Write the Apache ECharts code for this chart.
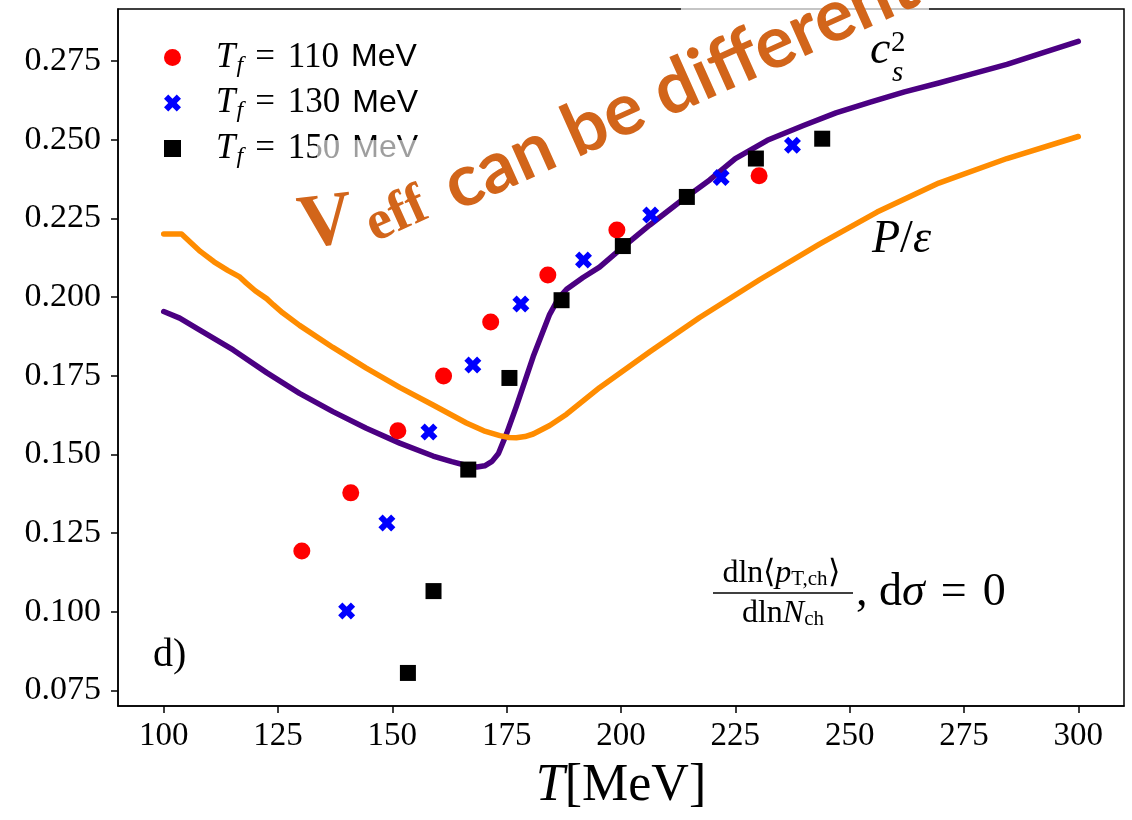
<!DOCTYPE html>
<html><head><meta charset="utf-8">
<script src="https://cdn.jsdelivr.net/npm/echarts@6/dist/echarts.min.js"></script>
<style>html,body{margin:0;padding:0;background:#fff}#c{width:1132px;height:820px}</style>
</head><body><div id="c"></div>
<script>
// ---- data ----
const xTicks = [100, 125, 150, 175, 200, 225, 250, 275, 300];
const yTicks = [0.075, 0.100, 0.125, 0.150, 0.175, 0.200, 0.225, 0.250, 0.275];

const csT = [100, 103.5, 107.9, 115.2, 122.5, 129.7, 137.0, 144.3, 151.6, 158.9, 163.0, 166.2, 168.5, 170.2, 171.8, 173.2, 175.0, 177.1, 180.8, 184.4, 186.3, 188.1, 191.7, 195.3, 199.7, 206.3, 212.8, 219.4, 225.0, 232.0, 239.9, 247.0, 254.7, 262.0, 269.5, 277.0, 284.4, 292.0, 300];
const csV = [0.1954, 0.1933, 0.1895, 0.1832, 0.1760, 0.1694, 0.1636, 0.1583, 0.1536, 0.1495, 0.1477, 0.1465, 0.1460, 0.1464, 0.1478, 0.1503, 0.1567, 0.1652, 0.1811, 0.1945, 0.1995, 0.2025, 0.2062, 0.2095, 0.2150, 0.2229, 0.2302, 0.2372, 0.2440, 0.2498, 0.2545, 0.2585, 0.2620, 0.2652, 0.2680, 0.2710, 0.2739, 0.2775, 0.2812];

const peT = [100, 103.9, 106, 108, 111, 114, 116.5, 118, 120, 122.5, 124, 126, 129.7, 137.0, 144.3, 151.6, 158.9, 166.2, 170, 173.5, 175.5, 177.1, 179.0, 180.8, 184.4, 188.1, 195.3, 206.3, 217.2, 230.3, 243.4, 256, 269.5, 284.4, 300];
const peV = [0.2200, 0.2200, 0.2172, 0.2145, 0.2112, 0.2085, 0.2065, 0.2045, 0.2020, 0.1995, 0.1975, 0.1950, 0.1910, 0.1840, 0.1774, 0.1713, 0.1657, 0.1600, 0.1575, 0.1560, 0.1554, 0.1553, 0.1557, 0.1565, 0.1592, 0.1628, 0.1712, 0.1826, 0.1935, 0.2055, 0.2168, 0.2270, 0.2362, 0.2440, 0.2510];

const tf110T = [130.2, 140.9, 151.2, 161.2, 171.5, 184.0, 199.1, 230.2];
const tf110V = [0.1193, 0.1378, 0.1575, 0.1749, 0.1921, 0.2070, 0.2213, 0.2385];

const tf130T = [140.0, 148.8, 158.0, 167.6, 178.1, 191.8, 206.5, 221.9, 237.5];
const tf130V = [0.1003, 0.1282, 0.1571, 0.1784, 0.1978, 0.2118, 0.2261, 0.2380, 0.2482];

const tf150T = [153.4, 159.0, 166.6, 175.6, 187.0, 200.4, 214.4, 229.5, 244.0];
const tf150V = [0.0806, 0.1066, 0.1452, 0.1743, 0.1990, 0.2162, 0.2318, 0.2440, 0.2503];

const seriesNames = ['Tf = 110 MeV', 'Tf = 130 MeV', 'Tf = 150 MeV'];

// ---- helpers ----
const zip = (a, b) => a.map((v, i) => [v, b[i]]);
const XPATH = 'path://M-1,-2 L0,-1 L1,-2 L2,-1 L1,0 L2,1 L1,2 L0,1 L-1,2 L-2,1 L-1,0 L-2,-1 Z';
const SERIF = 'Liberation Serif';
const ORANGE_TXT = '#D2651A';

const chart = echarts.init(document.getElementById('c'), null, {renderer: 'canvas'});

const option = {
  backgroundColor: '#fff',
  animation: false,
  grid: {left: 118, right: 8, top: 9, bottom: 114, show: true, borderColor: '#000', borderWidth: 1.5, backgroundColor: 'transparent'},
  xAxis: {
    type: 'value', min: 90, max: 310,
    axisLine: {show: true, onZero: false, lineStyle: {color: '#000', width: 1.5}},
    axisTick: {show: true, length: 7, lineStyle: {color: '#000', width: 1.5}, customValues: xTicks},
    axisLabel: {customValues: xTicks, margin: 14, color: '#000', fontFamily: SERIF, fontSize: 33},
    splitLine: {show: false},
    name: '{i|T}{r|[MeV]}', nameLocation: 'middle', nameGap: 54,
    nameTextStyle: {rich: {
      i: {fontFamily: SERIF, fontStyle: 'italic', fontSize: 52, color: '#000'},
      r: {fontFamily: SERIF, fontSize: 52, color: '#000'}
    }}
  },
  yAxis: {
    type: 'value', min: 0.0701, max: 0.2915,
    axisLine: {show: true, onZero: false, lineStyle: {color: '#000', width: 1.5}},
    axisTick: {show: true, length: 7, lineStyle: {color: '#000', width: 1.5}, customValues: yTicks},
    axisLabel: {customValues: yTicks, margin: 17, color: '#000', fontFamily: SERIF, fontSize: 34,
      formatter: v => v.toFixed(3)},
    splitLine: {show: false}
  },
  legend: {
    orient: 'vertical', left: 159, top: 35, itemWidth: 17, itemHeight: 17, itemGap: 8,
    data: [
      {name: seriesNames[0], icon: 'circle'},
      {name: seriesNames[1], icon: XPATH},
      {name: seriesNames[2], icon: 'rect'}
    ],
    formatter: name => {
      const v = name.match(/\d+/)[0];
      return '{t|T}{s|f}{e|=}{n|' + v + '}{m|MeV}';
    },
    textStyle: {color: '#000', rich: {
      t: {fontFamily: SERIF, fontStyle: 'italic', fontSize: 35, padding: [0, 0, 0, 30], lineHeight: 44},
      s: {fontFamily: SERIF, fontStyle: 'italic', fontSize: 24, padding: [16, 0, 0, 1]},
      e: {fontFamily: SERIF, fontSize: 35, padding: [0, 13, 0, 12]},
      n: {fontFamily: SERIF, fontSize: 35},
      m: {fontFamily: 'Liberation Sans', fontSize: 32, padding: [0, 0, 0, 12]}
    }}
  },
  series: [
    {type: 'line', name: 'cs2', data: zip(csT, csV), showSymbol: false, symbol: 'none', smooth: false, lineStyle: {color: '#4B0082', width: 5.5, join: 'round', cap: 'round'}, z: 2},
    {type: 'line', name: 'Pe', data: zip(peT, peV), showSymbol: false, symbol: 'none', smooth: false, lineStyle: {color: '#FF8C00', width: 5.5, join: 'round', cap: 'round'}, z: 2},
    {type: 'scatter', name: seriesNames[0], data: zip(tf110T, tf110V), symbol: 'circle', symbolSize: 17, itemStyle: {color: '#FF0000', opacity: 1}, z: 3},
    {type: 'scatter', name: seriesNames[1], data: zip(tf130T, tf130V), symbol: XPATH, symbolSize: 17, itemStyle: {color: '#0000FF', opacity: 1}, z: 4},
    {type: 'scatter', name: seriesNames[2], data: zip(tf150T, tf150V), symbol: 'rect', symbolSize: 16, itemStyle: {color: '#000000', opacity: 1}, z: 5}
  ],
  graphic: [
    // c_s^2 label
    {type: 'text', x: 870, y: 74, z: 50, style: {text: 'c', fontFamily: SERIF, fontStyle: 'italic', fontSize: 46, fill: '#000', align: 'left', verticalAlign: 'bottom'}},
    {type: 'text', x: 892, y: 88, z: 50, style: {text: 's', fontFamily: SERIF, fontStyle: 'italic', fontSize: 29, fill: '#000', align: 'left', verticalAlign: 'bottom'}},
    {type: 'text', x: 891, y: 58, z: 50, style: {text: '2', fontFamily: SERIF, fontSize: 29, fill: '#000', align: 'left', verticalAlign: 'bottom'}},
    // P/eps label
    {type: 'text', x: 872, y: 240, z: 50, style: {text: '{i|P}{r|/}{i|ε}', fill: '#000', align: 'left', verticalAlign: 'middle',
      rich: {i: {fontFamily: SERIF, fontStyle: 'italic', fontSize: 46}, r: {fontFamily: SERIF, fontSize: 46}}}},
    // d)
    {type: 'text', x: 153, y: 655, z: 50, style: {text: 'd)', fontFamily: SERIF, fontSize: 40, fill: '#000', align: 'left', verticalAlign: 'middle'}},
    // fraction
    {type: 'text', x: 781, y: 574, z: 50, style: {text: '{r|dln⟨}{i|p}{s|T,ch}{r|⟩}', fill: '#000', align: 'center', verticalAlign: 'middle',
      rich: {r: {fontFamily: SERIF, fontSize: 32}, i: {fontFamily: SERIF, fontStyle: 'italic', fontSize: 32}, s: {fontFamily: SERIF, fontSize: 21, padding: [11, 0, 0, 0]}}}},
    {type: 'line', z: 50, shape: {x1: 713, y1: 593, x2: 853, y2: 593}, style: {stroke: '#000', lineWidth: 1.5}},
    {type: 'text', x: 783, y: 614, z: 50, style: {text: '{r|dln}{i|N}{s|ch}', fill: '#000', align: 'center', verticalAlign: 'middle',
      rich: {r: {fontFamily: SERIF, fontSize: 32}, i: {fontFamily: SERIF, fontStyle: 'italic', fontSize: 32}, s: {fontFamily: SERIF, fontSize: 21, padding: [11, 0, 0, 0]}}}},
    {type: 'text', x: 856, y: 593, z: 50, style: {text: '{r|, d}{i|σ}{q|=}{r|0}', fill: '#000', align: 'left', verticalAlign: 'middle',
      rich: {r: {fontFamily: SERIF, fontSize: 46}, i: {fontFamily: SERIF, fontStyle: 'italic', fontSize: 46}, q: {fontFamily: SERIF, fontSize: 46, padding: [0, 16, 0, 16]}}}},
    // semi-transparent white patches of the overlay box
    {type: 'rect', z: 90, shape: {x: 317, y: 140, width: 125, height: 38}, style: {fill: 'rgba(255,255,255,0.62)'}},
    {type: 'rect', z: 90, shape: {x: 681, y: 0, width: 248, height: 13}, style: {fill: 'rgba(255,255,255,0.7)'}},
    // overlay text
    {type: 'text', x: 326, y: 225, rotation: 0.12, z: 100, style: {text: 'V', fontFamily: SERIF, fontWeight: 'bold', fontSize: 76, fill: ORANGE_TXT, align: 'center', verticalAlign: 'middle'}},
    {type: 'text', x: 397, y: 216, rotation: 0.42, z: 100, style: {text: 'eff', fontFamily: SERIF, fontWeight: 'bold', fontSize: 56, fill: ORANGE_TXT, align: 'center', verticalAlign: 'middle'}},
    {type: 'text', x: 680, y: 86, rotation: 0.42, z: 100, style: {text: 'can be different', fontFamily: 'Lato', fontWeight: 'bold', fontSize: 73, fill: ORANGE_TXT, align: 'center', verticalAlign: 'middle'}}
  ]
};
chart.setOption(option);
</script></body></html>
